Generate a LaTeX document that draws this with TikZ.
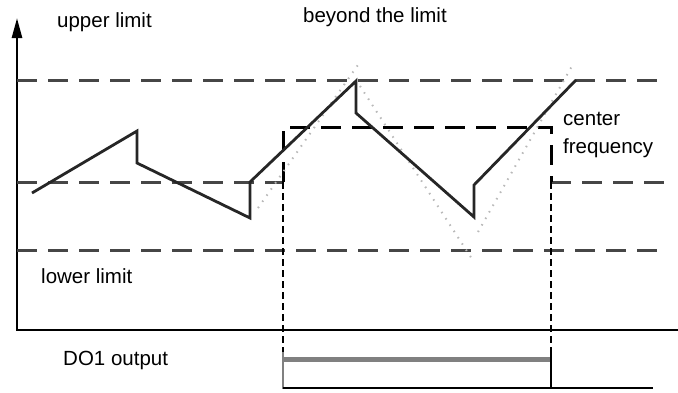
\documentclass[tikz,border=0pt]{standalone}
\usepackage{fontspec}
\setmainfont{Liberation Sans}
\usetikzlibrary{arrows.meta}
\tikzset{
  limitline/.style={line width=3pt,gray!55!black,dash pattern=on 20pt off 11pt},
  doline/.style={line width=3pt,black,dash pattern=on 20pt off 11pt},
  dropline/.style={line width=2.4pt,black,dash pattern=on 7pt off 4pt},
  signal/.style={line width=2.8pt,black!85,line join=miter},
  ghost/.style={line width=2pt,gray!55,dash pattern=on 1.5pt off 6pt},
  lbl/.style={anchor=base west,inner sep=0pt,font=\fontsize{20.5}{24}\selectfont}
}
\begin{document}
\begin{tikzpicture}[x=1pt,y=-1pt]
  \useasboundingbox (0,0) rectangle (678,392);
  % axes
  \draw[line width=2.6pt,-{Triangle[length=20pt,width=10pt]}] (17,330) -- (17,18);
  \draw[line width=2.6pt] (16,330) -- (678,330);
  % limit lines
  \draw[limitline] (17,80) -- (668,80);
  \draw[limitline] (17,182) -- (283,182);
  \draw[limitline] (551,182) -- (668,182);
  \draw[limitline] (17,250) -- (668,250);
  % DO1 window
  \draw[doline] (283,182) -- (283,127) -- (551,127) -- (551,182);
  \draw[dropline] (283,182) -- (283,352);
  \draw[dropline] (551,182) -- (551,352);
  % ghost lines without the step
  \draw[ghost] (258,208) -- (360,62);
  \draw[ghost] (360,86) -- (474,262);
  \draw[ghost] (478,232) -- (572,66);
  % frequency curve
  \coordinate (s0) at (32,193);
  \coordinate (s1) at (137,131);
  \coordinate (s2) at (137,163);
  \coordinate (s3) at (250,218);
  \coordinate (s4) at (250,182);
  \coordinate (s5) at (356,81);
  \coordinate (s6) at (356,113);
  \coordinate (s7) at (474,217);
  \coordinate (s8) at (474,185);
  \coordinate (s9) at (576,80);
  \draw[signal] (s0) -- (s1) -- (s2) -- (s3) -- (s4) -- (s5) -- (s6) -- (s7) -- (s8) -- (s9);
  % DO1 output
  \draw[line width=5pt,gray] (283,359) -- (551,359);
  \draw[line width=2.8pt,gray] (283,352) -- (283,389);
  \draw[line width=2.4pt] (283,388) -- (653,388);
  \draw[line width=2.6pt] (551,352) -- (551,388);
  % labels
  \node[lbl] (upper) at (57,27) {upper limit};
  \node[lbl] (beyond) at (303,22) {beyond the limit};
  \node[lbl] (center) at (563,125) {center};
  \node[lbl] (freq) at (563,153) {frequency};
  \node[lbl] (lower) at (41,283) {lower limit};
  \node[lbl] (out) at (63,365) {DO1 output};
\end{tikzpicture}
\end{document}
